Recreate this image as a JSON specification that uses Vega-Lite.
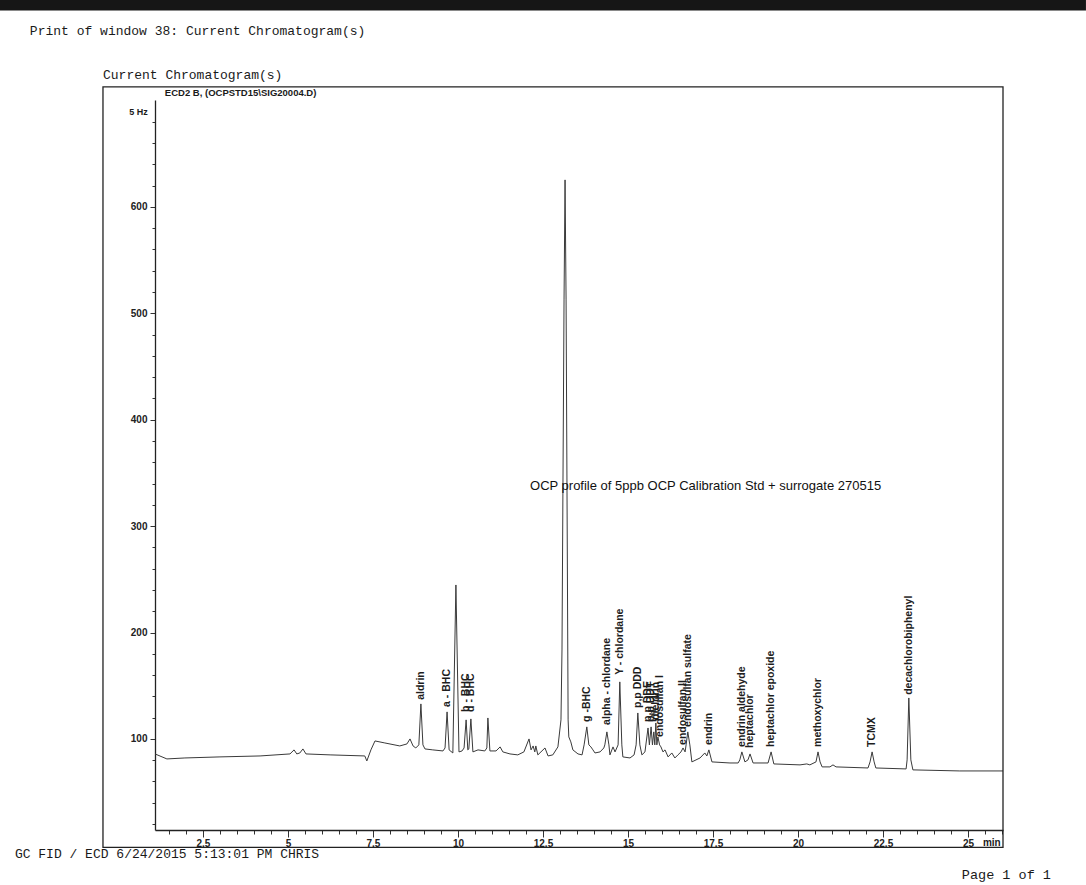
{
  "$schema": "https://vega.github.io/schema/vega-lite/v6.json",
  "width": 848,
  "height": 730,
  "autosize": {"type": "none"},
  "padding": {"left": 155, "top": 100, "right": 83, "bottom": 55},
  "background": "#ffffff",
  "config": {"view": {"stroke": null}, "text": {"font": "Liberation Sans"}, "axis": {"labelOverlap": false, "labelFlush": false, "grid": false, "title": null}},
  "datasets": {
    "trace": [
      {"t": 1.09, "v": 85.9}, {"t": 1.44, "v": 81.2}, {"t": 1.97, "v": 82.1}, {"t": 3.0, "v": 83.1},
      {"t": 4.18, "v": 84.0}, {"t": 5.06, "v": 85.9}, {"t": 5.18, "v": 89.7}, {"t": 5.26, "v": 85.9},
      {"t": 5.35, "v": 86.8}, {"t": 5.44, "v": 90.6}, {"t": 5.53, "v": 85.9}, {"t": 6.24, "v": 85.0},
      {"t": 7.26, "v": 84.0}, {"t": 7.32, "v": 79.3}, {"t": 7.44, "v": 89.7}, {"t": 7.56, "v": 98.1},
      {"t": 7.85, "v": 96.2}, {"t": 8.29, "v": 93.4}, {"t": 8.5, "v": 95.3}, {"t": 8.59, "v": 100.0},
      {"t": 8.68, "v": 93.4}, {"t": 8.76, "v": 91.5}, {"t": 8.85, "v": 94.4}, {"t": 8.91, "v": 132.9},
      {"t": 8.97, "v": 94.4}, {"t": 9.03, "v": 90.6}, {"t": 9.26, "v": 89.7}, {"t": 9.56, "v": 88.7},
      {"t": 9.62, "v": 91.5}, {"t": 9.68, "v": 125.4}, {"t": 9.74, "v": 89.7}, {"t": 9.85, "v": 86.8},
      {"t": 9.94, "v": 244.7}, {"t": 10.03, "v": 87.8}, {"t": 10.12, "v": 88.7}, {"t": 10.18, "v": 91.5},
      {"t": 10.24, "v": 117.9}, {"t": 10.29, "v": 89.7}, {"t": 10.32, "v": 90.6}, {"t": 10.38, "v": 118.8},
      {"t": 10.44, "v": 87.8}, {"t": 10.59, "v": 89.7}, {"t": 10.79, "v": 88.7}, {"t": 10.85, "v": 91.5},
      {"t": 10.88, "v": 119.7}, {"t": 10.94, "v": 88.7}, {"t": 11.12, "v": 88.7}, {"t": 11.24, "v": 92.5},
      {"t": 11.32, "v": 87.8}, {"t": 11.53, "v": 85.9}, {"t": 11.76, "v": 85.0}, {"t": 11.94, "v": 87.8},
      {"t": 12.09, "v": 100.0}, {"t": 12.15, "v": 89.7}, {"t": 12.21, "v": 93.4}, {"t": 12.26, "v": 87.8},
      {"t": 12.29, "v": 93.4}, {"t": 12.35, "v": 85.0}, {"t": 12.56, "v": 91.5}, {"t": 12.65, "v": 84.0},
      {"t": 12.79, "v": 85.0}, {"t": 12.94, "v": 92.5}, {"t": 13.03, "v": 117.9}, {"t": 13.06, "v": 183.6},
      {"t": 13.12, "v": 512.6}, {"t": 13.15, "v": 625.4}, {"t": 13.18, "v": 512.6}, {"t": 13.24, "v": 117.9},
      {"t": 13.26, "v": 101.9}, {"t": 13.32, "v": 97.2}, {"t": 13.38, "v": 89.7}, {"t": 13.53, "v": 85.9},
      {"t": 13.65, "v": 85.0}, {"t": 13.71, "v": 94.4}, {"t": 13.79, "v": 111.3}, {"t": 13.85, "v": 94.4},
      {"t": 13.91, "v": 92.5}, {"t": 13.97, "v": 89.7}, {"t": 14.03, "v": 86.8}, {"t": 14.18, "v": 87.8},
      {"t": 14.29, "v": 91.5}, {"t": 14.32, "v": 94.4}, {"t": 14.38, "v": 106.6}, {"t": 14.44, "v": 94.4},
      {"t": 14.47, "v": 85.0}, {"t": 14.56, "v": 92.5}, {"t": 14.62, "v": 87.8}, {"t": 14.71, "v": 94.4},
      {"t": 14.76, "v": 153.6}, {"t": 14.82, "v": 94.4}, {"t": 14.85, "v": 83.1}, {"t": 15.06, "v": 82.1},
      {"t": 15.18, "v": 85.0}, {"t": 15.24, "v": 94.4}, {"t": 15.29, "v": 124.4}, {"t": 15.35, "v": 94.4},
      {"t": 15.41, "v": 85.0}, {"t": 15.5, "v": 87.8}, {"t": 15.59, "v": 110.3}, {"t": 15.63, "v": 94.4},
      {"t": 15.68, "v": 111.3}, {"t": 15.72, "v": 94.4}, {"t": 15.76, "v": 106.6}, {"t": 15.79, "v": 94.4},
      {"t": 15.82, "v": 115.0}, {"t": 15.85, "v": 94.4}, {"t": 15.88, "v": 101.9}, {"t": 15.93, "v": 94.4},
      {"t": 15.97, "v": 92.5}, {"t": 16.03, "v": 87.8}, {"t": 16.09, "v": 89.7}, {"t": 16.18, "v": 83.1},
      {"t": 16.29, "v": 86.8}, {"t": 16.38, "v": 82.1}, {"t": 16.47, "v": 85.0}, {"t": 16.56, "v": 87.8},
      {"t": 16.62, "v": 91.5}, {"t": 16.68, "v": 87.8}, {"t": 16.71, "v": 94.4}, {"t": 16.76, "v": 106.6},
      {"t": 16.82, "v": 94.4}, {"t": 16.88, "v": 78.4}, {"t": 17.12, "v": 82.1}, {"t": 17.26, "v": 86.8},
      {"t": 17.32, "v": 84.0}, {"t": 17.38, "v": 89.7}, {"t": 17.47, "v": 78.4}, {"t": 18.0, "v": 77.4},
      {"t": 18.24, "v": 77.4}, {"t": 18.29, "v": 80.3}, {"t": 18.35, "v": 87.8}, {"t": 18.44, "v": 78.4},
      {"t": 18.53, "v": 80.3}, {"t": 18.59, "v": 85.9}, {"t": 18.68, "v": 77.4}, {"t": 19.12, "v": 77.4},
      {"t": 19.21, "v": 87.8}, {"t": 19.29, "v": 76.5}, {"t": 20.06, "v": 75.6}, {"t": 20.26, "v": 76.5},
      {"t": 20.35, "v": 75.6}, {"t": 20.53, "v": 78.4}, {"t": 20.59, "v": 87.8}, {"t": 20.65, "v": 78.4},
      {"t": 20.71, "v": 73.7}, {"t": 20.94, "v": 73.7}, {"t": 21.03, "v": 75.6}, {"t": 21.12, "v": 73.7},
      {"t": 22.06, "v": 72.7}, {"t": 22.12, "v": 78.4}, {"t": 22.18, "v": 87.8}, {"t": 22.24, "v": 78.4},
      {"t": 22.29, "v": 72.7}, {"t": 23.18, "v": 71.8}, {"t": 23.21, "v": 80.3}, {"t": 23.26, "v": 138.5},
      {"t": 23.32, "v": 80.3}, {"t": 23.38, "v": 70.9}, {"t": 24.76, "v": 69.9}, {"t": 26.03, "v": 69.9}
    ],
    "peaks": [
      {"name": "aldrin", "t": 8.91, "v": 136.7},
      {"name": "a - BHC", "t": 9.68, "v": 130.1},
      {"name": "b - BHC", "t": 10.24, "v": 125.4},
      {"name": "d - BHC", "t": 10.38, "v": 125.4},
      {"name": "g -BHC", "t": 13.79, "v": 116.0},
      {"name": "alpha - chlordane", "t": 14.38, "v": 113.2},
      {"name": "Y - chlordane", "t": 14.76, "v": 160.2},
      {"name": "p,p DDD", "t": 15.29, "v": 129.1},
      {"name": "p,p DDE", "t": 15.59, "v": 116.0},
      {"name": "p,p DDT", "t": 15.68, "v": 116.0},
      {"name": "dieldrin", "t": 15.82, "v": 117.9},
      {"name": "endosulfan I", "t": 15.94, "v": 101.9},
      {"name": "endosulfan II", "t": 16.62, "v": 94.4},
      {"name": "endosulfan sulfate", "t": 16.76, "v": 111.3},
      {"name": "endrin", "t": 17.38, "v": 94.4},
      {"name": "endrin aldehyde", "t": 18.35, "v": 92.5},
      {"name": "heptachlor", "t": 18.59, "v": 91.5},
      {"name": "heptachlor epoxide", "t": 19.21, "v": 92.5},
      {"name": "methoxychlor", "t": 20.59, "v": 92.5},
      {"name": "TCMX", "t": 22.18, "v": 92.5},
      {"name": "decachlorobiphenyl", "t": 23.26, "v": 141.4}
    ]
  },
  "layer": [
    {
      "data": {"name": "trace"},
      "mark": {"type": "line", "interpolate": "linear", "stroke": "#3a3a3a", "strokeWidth": 1},
      "encoding": {
        "x": {
          "field": "t", "type": "quantitative",
          "scale": {"domain": [1.09, 26.03], "nice": false, "zero": false},
          "axis": {
            "title": null, "grid": false, "orient": "bottom", "tickCount": 200,
            "values": [1.5, 2, 2.5, 3, 3.5, 4, 4.5, 5, 5.5, 6, 6.5, 7, 7.5, 8, 8.5, 9, 9.5, 10, 10.5, 11, 11.5, 12, 12.5, 13, 13.5, 14, 14.5, 15, 15.5, 16, 16.5, 17, 17.5, 18, 18.5, 19, 19.5, 20, 20.5, 21, 21.5, 22, 22.5, 23, 23.5, 24, 24.5, 25, 25.5, 26],
            "labelExpr": "datum.value % 2.5 === 0 ? '' + datum.value : ''",
            "tickSize": {"condition": {"test": "datum.value % 2.5 === 0", "value": 7}, "value": 4},
            "labelFont": "Liberation Sans", "labelFontWeight": "bold", "labelFontSize": 10,
            "labelColor": "#222222", "tickColor": "#333333", "domainColor": "#222222", "domainWidth": 1.3,
            "labelPadding": 1, "labelOverlap": false, "labelFlush": false
          }
        },
        "y": {
          "field": "v", "type": "quantitative",
          "scale": {"domain": [14.4, 700.5], "nice": false, "zero": false},
          "axis": {
            "title": null, "grid": false, "orient": "left", "tickCount": 200,
            "values": [20, 40, 60, 80, 100, 120, 140, 160, 180, 200, 220, 240, 260, 280, 300, 320, 340, 360, 380, 400, 420, 440, 460, 480, 500, 520, 540, 560, 580, 600, 620, 640, 660, 680],
            "labelExpr": "datum.value % 100 === 0 ? '' + datum.value : ''",
            "tickSize": {"condition": {"test": "datum.value % 100 === 0", "value": 5}, "value": 3},
            "labelFont": "Liberation Sans", "labelFontWeight": "bold", "labelFontSize": 10,
            "labelColor": "#222222", "tickColor": "#333333", "domainColor": "#222222", "domainWidth": 1.3,
            "labelPadding": 3, "labelOverlap": false, "labelFlush": false
          }
        }
      }
    },
    {
      "data": {"values": [{}]},
      "mark": {"type": "rect", "fill": "#161616", "stroke": null},
      "encoding": {
        "x": {"datum": -3.47, "type": "quantitative"},
        "x2": {"datum": 28.47},
        "y": {"datum": 794.5, "type": "quantitative"},
        "y2": {"datum": 784.7}
      }
    },
    {
      "data": {"values": [{}]},
      "mark": {"type": "rect", "fill": null, "fillOpacity": 0, "stroke": "#222222", "strokeWidth": 1.3},
      "encoding": {
        "x": {"datum": -0.44, "type": "quantitative"},
        "x2": {"datum": 26.03},
        "y": {"datum": 712.8, "type": "quantitative"},
        "y2": {"datum": -2.0}
      }
    },
    {
      "data": {"name": "peaks"},
      "mark": {"type": "text", "angle": 270, "align": "left", "baseline": "middle", "font": "Liberation Sans", "fontWeight": "bold", "fontSize": 10.5, "fill": "#1e1e1e"},
      "encoding": {
        "x": {"field": "t", "type": "quantitative"},
        "y": {"field": "v", "type": "quantitative"},
        "text": {"field": "name"}
      }
    },
    {
      "data": {"values": [{}]},
      "mark": {"type": "text", "text": "OCP profile of 5ppb OCP Calibration Std + surrogate 270515", "align": "left", "baseline": "alphabetic", "font": "Liberation Sans", "fontSize": 13, "fill": "#111111"},
      "encoding": {"x": {"datum": 12.12, "type": "quantitative"}, "y": {"datum": 334, "type": "quantitative"}}
    },
    {
      "data": {"values": [{}]},
      "mark": {"type": "text", "text": "Print of window 38: Current Chromatogram(s)", "align": "left", "baseline": "alphabetic", "font": "Liberation Mono", "fontSize": 13, "fill": "#1a1a1a"},
      "encoding": {"x": {"datum": -2.59, "type": "quantitative"}, "y": {"datum": 761.7, "type": "quantitative"}}
    },
    {
      "data": {"values": [{}]},
      "mark": {"type": "text", "text": "Current Chromatogram(s)", "align": "left", "baseline": "alphabetic", "font": "Liberation Mono", "fontSize": 13, "fill": "#1a1a1a"},
      "encoding": {"x": {"datum": -0.44, "type": "quantitative"}, "y": {"datum": 720.3, "type": "quantitative"}}
    },
    {
      "data": {"values": [{}]},
      "mark": {"type": "text", "text": "ECD2 B, (OCPSTD15\\SIG20004.D)", "align": "left", "baseline": "alphabetic", "font": "Liberation Sans", "fontWeight": "bold", "fontSize": 9.5, "fill": "#1a1a1a"},
      "encoding": {"x": {"datum": 1.38, "type": "quantitative"}, "y": {"datum": 704.3, "type": "quantitative"}}
    },
    {
      "data": {"values": [{}]},
      "mark": {"type": "text", "text": "5 Hz", "align": "right", "baseline": "alphabetic", "font": "Liberation Sans", "fontWeight": "bold", "fontSize": 9, "fill": "#1a1a1a"},
      "encoding": {"x": {"datum": 0.88, "type": "quantitative"}, "y": {"datum": 686.5, "type": "quantitative"}}
    },
    {
      "data": {"values": [{}]},
      "mark": {"type": "text", "text": "min", "align": "left", "baseline": "alphabetic", "font": "Liberation Sans", "fontWeight": "bold", "fontSize": 10, "fill": "#1a1a1a"},
      "encoding": {"x": {"datum": 25.44, "type": "quantitative"}, "y": {"datum": -0.5, "type": "quantitative"}}
    },
    {
      "data": {"values": [{}]},
      "mark": {"type": "text", "text": "GC FID / ECD 6/24/2015 5:13:01 PM CHRIS", "align": "left", "baseline": "alphabetic", "font": "Liberation Mono", "fontSize": 13, "fill": "#1a1a1a"},
      "encoding": {"x": {"datum": -3.03, "type": "quantitative"}, "y": {"datum": -11.8, "type": "quantitative"}}
    },
    {
      "data": {"values": [{}]},
      "mark": {"type": "text", "text": "Page 1 of 1", "align": "left", "baseline": "alphabetic", "font": "Liberation Mono", "fontSize": 13.5, "fill": "#1a1a1a"},
      "encoding": {"x": {"datum": 24.82, "type": "quantitative"}, "y": {"datum": -31.6, "type": "quantitative"}}
    }
  ]
}
